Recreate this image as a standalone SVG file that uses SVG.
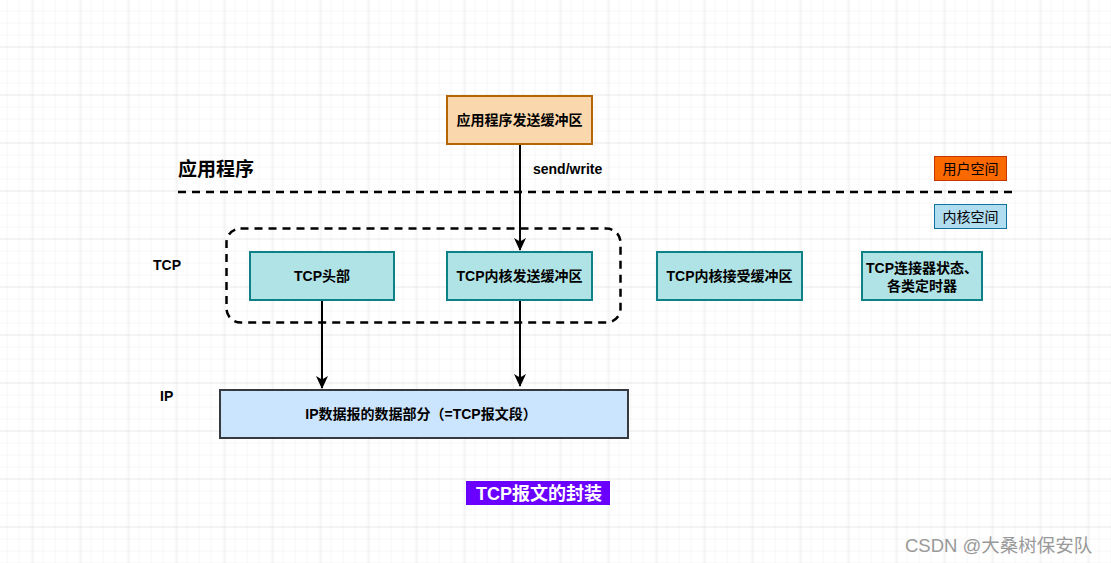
<svg xmlns="http://www.w3.org/2000/svg" width="1111" height="563" viewBox="0 0 1111 563">
<defs>
<pattern id="minor" x="-14" y="0" width="12" height="12" patternUnits="userSpaceOnUse">
<path d="M12 0V12M0 12H12" fill="none" stroke="#ececec" stroke-width="1"/>
</pattern>
<pattern id="major" x="-14.5" y="-0.5" width="48" height="48" patternUnits="userSpaceOnUse">
<rect width="48" height="48" fill="url(#minor)"/>
<path d="M48 0V48M0 48H48" fill="none" stroke="#dadada" stroke-width="1"/>
</pattern>
<marker id="arr" markerWidth="14" markerHeight="14" viewBox="0 0 14 14" refX="12" refY="7" orient="auto" markerUnits="userSpaceOnUse">
<path d="M0 1 L13 7 L0 13 L3.5 7 Z" fill="#000"/>
</marker>
<style>
text{font-family:"Liberation Sans","Noto Sans CJK SC",sans-serif;font-size:14px;font-weight:bold;fill:#000}
.c{text-anchor:middle}
.tcp{fill:#b0e3e6;stroke:#0e8088;stroke-width:2}
.conn{fill:none;stroke:#000;stroke-width:2}
.dash{fill:none;stroke:#000;stroke-width:2.5;stroke-dasharray:8,6}
</style>
</defs>
<rect width="1111" height="563" fill="#fff"/>
<rect width="1111" height="563" fill="url(#major)"/>

<g id="connectors">
<line class="conn" x1="520" y1="144" x2="520" y2="250" marker-end="url(#arr)"/>
<line class="conn" x1="322" y1="300" x2="322" y2="388" marker-end="url(#arr)"/>
<line class="conn" x1="520" y1="300" x2="520" y2="386" marker-end="url(#arr)"/>
</g>

<g id="send-label"><text x="533" y="174">send/write</text></g>

<g id="app-title"><text x="178" y="176" style="font-size:19px">应用程序</text></g>

<g id="divider"><line class="dash" x1="178" y1="192" x2="1018" y2="192"/></g>

<g id="tcp-group"><rect class="dash" x="226.5" y="228.5" width="394" height="94" rx="14"/></g>

<g id="app-buffer">
<rect x="447" y="96" width="145" height="48" fill="#fad7ac" stroke="#b46504" stroke-width="2"/>
<text class="c" x="519.5" y="125">应用程序发送缓冲区</text>
</g>

<g id="user-space">
<rect x="934.5" y="156.5" width="72" height="24" fill="#fa6800" stroke="#c73500" stroke-width="1"/>
<text class="c" x="970.5" y="173.5" style="font-weight:normal">用户空间</text>
</g>

<g id="kernel-space">
<rect x="934.5" y="204.5" width="72" height="24" fill="#b1ddf0" stroke="#10739e" stroke-width="1"/>
<text class="c" x="970.5" y="221.5" style="font-weight:normal">内核空间</text>
</g>

<g id="tcp-label"><text x="153" y="270">TCP</text></g>
<g id="ip-label"><text x="160" y="401">IP</text></g>

<g id="tcp-header">
<rect class="tcp" x="250" y="252" width="144" height="48"/>
<text class="c" x="322" y="281">TCP头部</text>
</g>

<g id="tcp-send-buf">
<rect class="tcp" x="447" y="252" width="145" height="48"/>
<text class="c" x="519.5" y="281">TCP内核发送缓冲区</text>
</g>

<g id="tcp-recv-buf">
<rect class="tcp" x="657" y="252" width="145" height="48"/>
<text class="c" x="729.5" y="281">TCP内核接受缓冲区</text>
</g>

<g id="tcp-state">
<rect class="tcp" x="862" y="252" width="120" height="48"/>
<text class="c" x="922" y="273">TCP连接器状态、</text>
<text class="c" x="922" y="291">各类定时器</text>
</g>

<g id="ip-data">
<rect x="220" y="390" width="408" height="48" fill="#cce5ff" stroke="#36393d" stroke-width="2"/>
<text class="c" x="421" y="419">IP数据报的数据部分（=TCP报文段）</text>
</g>

<g id="caption">
<rect x="466" y="481" width="144" height="24" fill="#6a00ff"/>
<text class="c" x="539" y="500" style="font-size:18px;fill:#fff">TCP报文的封装</text>
</g>

<g id="watermark"><text x="905" y="552" style="font-size:18.5px;font-weight:normal;fill:#999">CSDN @大桑树保安队</text></g>
</svg>
